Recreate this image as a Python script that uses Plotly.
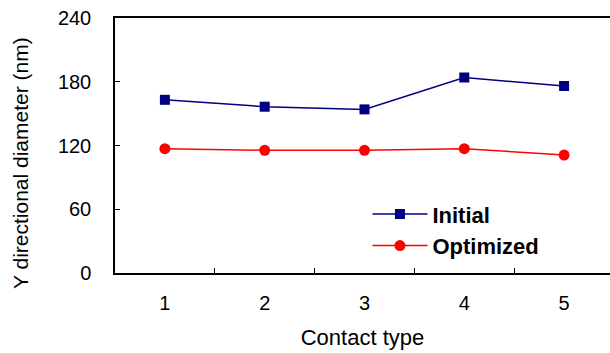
import plotly.graph_objects as go

contact_types = [1, 2, 3, 4, 5]
initial = [163, 156.5, 154, 184, 176]
optimized = [117, 115.5, 115.5, 117, 111]
y_ticks = [0, 60, 120, 180, 240]
x_sep_ticks = [1.5, 2.5, 3.5, 4.5]

FONT = "Liberation Sans, Arial, sans-serif"

fig = go.Figure()
fig.add_trace(go.Scatter(
    x=contact_types, y=initial, name="Initial", mode="lines+markers",
    line=dict(color="#000080", width=1.5),
    marker=dict(symbol="square", size=10, color="#000080"),
))
fig.add_trace(go.Scatter(
    x=contact_types, y=optimized, name="Optimized", mode="lines+markers",
    line=dict(color="#FF0000", width=1.5),
    marker=dict(symbol="circle", size=11, color="#FF0000"),
))

fig.update_layout(
    width=610, height=353,
    margin=dict(l=115, r=0, t=18, b=80),
    paper_bgcolor="white", plot_bgcolor="white",
    font=dict(family=FONT, size=20, color="black"),
    showlegend=True,
    legend=dict(
        x=0.51, y=0.168, xanchor="left", yanchor="middle",
        bgcolor="rgba(0,0,0,0)",
        font=dict(family=FONT, size=22, color="black", weight="bold"),
        itemwidth=55, tracegroupgap=0,
    ),
    xaxis=dict(
        range=[0.5, 5.46], automargin=False,
        tickvals=contact_types, ticktext=[str(c) for c in contact_types],
        ticks="", showgrid=False, zeroline=False,
        showline=True, linecolor="black", linewidth=1.5, mirror=True,
        minor=dict(tickvals=x_sep_ticks, ticks="inside", ticklen=5,
                   tickcolor="black", tickwidth=1, showgrid=False),
        ticklabelstandoff=11,
        title=dict(text="Contact type", font=dict(size=22), standoff=17),
    ),
    yaxis=dict(
        range=[0, 240], tickvals=y_ticks, automargin=False,
        ticks="inside", ticklen=5, tickcolor="black", tickwidth=1,
        showgrid=False, zeroline=False,
        showline=True, linecolor="black", linewidth=1.5,
        ticklabelstandoff=18,
    ),
    annotations=[dict(
        text="Y directional diameter (nm)", textangle=-90,
        xref="paper", yref="paper", x=-95 / 495, y=110 / 255,
        xanchor="center", yanchor="middle", showarrow=False,
        font=dict(family=FONT, size=21, color="black"),
    )],
)

fig.write_html(
    "out.html",
    config={"displayModeBar": False},
    post_script="document.body.style.margin='0';document.body.style.overflow='hidden';",
)
